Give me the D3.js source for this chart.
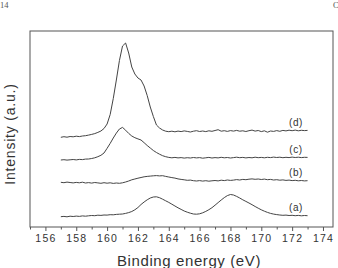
<!DOCTYPE html>
<html><head><meta charset="utf-8">
<script src="https://cdn.jsdelivr.net/npm/d3@7/dist/d3.min.js"></script>
<style>
html,body{margin:0;padding:0;background:#fff;}
svg{display:block;font-family:"Liberation Sans",Arial,sans-serif;}
</style></head>
<body><svg id="c" width="338" height="268"></svg>
<script>
// Binding energy (eV), shared by all spectra
const energy = [
  157.0,157.2,157.4,157.6,157.8,158.0,158.2,158.4,158.6,158.8,
  159.0,159.2,159.4,159.6,159.8,160.0,160.2,160.4,160.6,160.8,
  161.0,161.2,161.4,161.6,161.8,162.0,162.2,162.4,162.6,162.8,
  163.0,163.2,163.4,163.6,163.8,164.0,164.2,164.4,164.6,164.8,
  165.0,165.2,165.4,165.6,165.8,166.0,166.2,166.4,166.6,166.8,
  167.0,167.2,167.4,167.6,167.8,168.0,168.2,168.4,168.6,168.8,
  169.0,169.2,169.4,169.6,169.8,170.0,170.2,170.4,170.6,170.8,
  171.0,171.2,171.4,171.6,171.8,172.0,172.2,172.4,172.6,172.8,
  173.0];
// Intensities (a.u., including vertical offsets)
const seriesA = [
  10.3,10.6,10.2,10.8,10.5,10.9,10.6,11.1,10.8,11.2,
  11.5,11.3,11.8,11.6,12.0,11.9,12.3,12.2,12.6,12.8,
  13.0,13.6,14.4,15.5,17.2,19.5,22.5,25.0,27.2,29.0,
  30.0,30.2,29.3,27.8,26.2,24.6,22.8,21.0,19.2,17.6,
  16.0,14.8,13.8,13.0,12.8,13.2,14.2,15.6,17.3,19.3,
  21.8,24.4,27.0,29.4,31.4,32.5,32.0,30.6,29.0,27.2,
  25.6,24.0,22.3,20.5,18.8,17.2,15.8,14.6,13.6,12.9,
  12.4,12.0,11.7,11.9,11.5,11.7,11.3,11.6,11.2,11.5,
  11.3];
const seriesB = [
  44.7,44.3,44.9,44.5,44.1,44.6,44.2,44.8,44.0,44.4,
  43.9,44.5,44.1,43.7,44.3,43.8,44.2,43.6,44.0,43.7,
  44.2,45.0,46.0,47.2,48.0,48.8,49.5,50.2,50.6,50.9,
  51.2,51.4,51.1,51.3,50.6,50.0,49.4,48.9,48.1,47.6,
  47.2,46.7,46.9,46.3,46.0,46.4,45.9,46.3,45.8,46.2,
  46.5,46.1,46.8,46.4,47.0,46.6,46.9,47.4,47.0,47.6,
  47.3,47.8,48.1,47.7,48.0,47.5,47.9,47.3,47.6,47.0,
  47.3,46.8,47.1,46.6,46.9,46.4,46.7,46.2,46.5,46.1,
  46.3];
const seriesC = [
  67.0,67.3,66.9,67.2,67.5,67.1,67.6,67.4,67.9,68.0,
  68.5,69.2,70.3,71.7,74.0,78.7,83.6,89.0,93.9,98.0,
  99.6,96.8,93.6,91.0,89.3,88.1,87.0,84.3,81.5,79.0,
  76.5,74.5,72.8,71.3,70.3,69.6,69.2,69.6,69.1,69.4,
  68.9,69.3,69.0,69.5,69.1,69.4,68.8,69.2,69.6,69.0,
  69.4,69.1,69.7,69.2,69.5,69.0,69.4,69.8,69.3,69.6,
  69.1,69.5,69.2,69.8,69.3,69.6,69.2,69.7,69.4,69.9,
  69.5,69.8,69.3,69.7,69.4,69.9,69.5,69.8,69.4,69.7,
  69.6];
const seriesD = [
  89.7,90.3,89.8,90.5,90.2,90.8,90.4,91.0,91.3,91.9,
  92.6,93.4,94.6,96.0,98.5,103.0,112.5,128.5,147.0,166.5,
  181.0,184.0,174.0,160.0,153.0,149.0,147.0,141.0,131.5,120.0,
  110.5,102.0,99.0,97.0,95.8,95.3,95.8,95.2,95.9,95.4,
  96.1,95.6,95.0,95.8,96.3,95.5,96.0,95.4,96.2,95.7,
  96.5,97.3,95.8,96.3,95.6,96.4,95.9,96.6,95.8,96.2,
  95.5,96.3,96.9,95.9,96.5,95.4,96.2,94.8,96.0,95.6,
  96.4,95.7,96.6,96.1,96.8,96.3,96.9,96.2,96.7,96.4,
  96.6];
const seriesNames = ["(a)","(b)","(c)","(d)"];
const majorTicks = [156,158,160,162,164,166,168,170,172,174];
const minorTicks = [155,157,159,161,163,165,167,169,171,173,175];
const labelEnergy = 172.25;

const svg = d3.select("#c");
const L = 30, R = 333, T = 31, B = 227;
const x = d3.scaleLinear().domain([155, 174.65]).range([L, R]);
const y = d3.scaleLinear().domain([0, 196]).range([B, T]);
const ink = "#444";

// page artefacts
svg.append("text").attr("x", 0).attr("y", 7.5).attr("font-family", "Liberation Serif, serif")
  .attr("font-size", 8.5).attr("fill", "#555").text("14");
svg.append("text").attr("x", 333).attr("y", 7.5).attr("font-family", "Liberation Serif, serif")
  .attr("font-size", 8.5).attr("fill", "#555").text("C");

// frame
svg.append("rect").attr("x", L).attr("y", T).attr("width", R - L).attr("height", B - T)
  .attr("fill", "none").attr("stroke", "#555").attr("stroke-width", 1);

// x axis ticks
const gx = svg.append("g").attr("transform", `translate(0,${B})`);
gx.call(d3.axisBottom(x).tickValues(majorTicks).tickSize(4).tickPadding(4).tickFormat(d3.format("d")));
gx.select(".domain").remove();
gx.selectAll(".tick line").attr("stroke", "#555");
gx.selectAll(".tick text").attr("fill", "#333").attr("font-size", 10.5)
  .attr("font-family", "Liberation Sans, Arial, sans-serif").attr("letter-spacing", 1.2);
const gm = svg.append("g").attr("transform", `translate(0,${B})`);
gm.call(d3.axisBottom(x).tickValues(minorTicks).tickSize(2.5).tickFormat(""));
gm.select(".domain").remove();
gm.selectAll(".tick line").attr("stroke", "#555");

// titles
svg.append("text").attr("x", 189).attr("y", 265.5).attr("text-anchor", "middle")
  .attr("font-size", 15).attr("letter-spacing", 0.6).attr("fill", "#333").text("Binding energy (eV)");
svg.append("text").attr("transform", "translate(15,134) rotate(-90)").attr("text-anchor", "middle")
  .attr("font-size", 14).attr("letter-spacing", 0.8).attr("fill", "#333").text("Intensity (a.u.)");

// spectra
const all = [seriesA, seriesB, seriesC, seriesD];
const line = d3.line().x((d, i) => x(energy[i])).y(d => y(d));
svg.append("g").selectAll("path").data(all).join("path")
  .attr("d", line).attr("fill", "none").attr("stroke", ink).attr("stroke-width", 1)
  .attr("stroke-linejoin", "round");

// series labels
const li = energy.indexOf(172.2);
svg.append("g").selectAll("text").data(all).join("text")
  .attr("x", x(labelEnergy)).attr("y", d => y(d[li]) - 4.5)
  .attr("text-anchor", "middle").attr("font-size", 10).attr("letter-spacing", 0.6)
  .attr("fill", "#333").text((d, i) => seriesNames[i]);
</script></body></html>
